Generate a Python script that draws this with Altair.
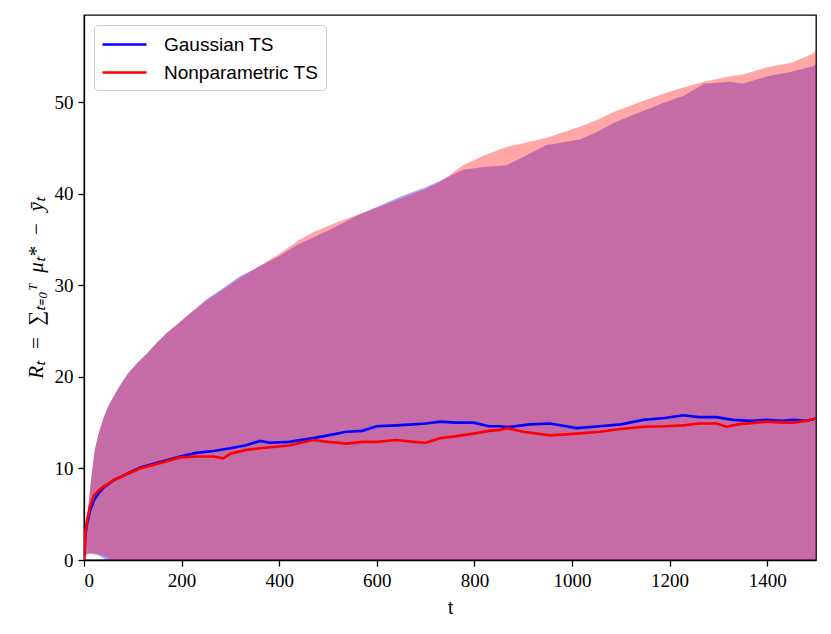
import altair as alt
import pandas as pd

# ---- data ----
SERIES = ["Gaussian TS", "Nonparametric TS"]
COLORS = ["#0000ff", "#ff0000"]

T_G = [0, 3, 6, 12, 20, 30, 40, 60, 80, 115, 150, 197, 230, 265, 300, 330, 361, 381, 420, 470,
       500, 538, 570, 600, 640, 675, 700, 730, 760, 798, 830, 852, 866, 914, 955, 1010, 1057,
       1100, 1146, 1190, 1228, 1260, 1296, 1317, 1330, 1365, 1399, 1430, 1453, 1480, 1500]
M_G = [0, 2.8, 3.9, 5.3, 6.5, 7.3, 7.9, 8.7, 9.2, 10.1, 10.6, 11.3, 11.7, 11.9, 12.2, 12.5, 13.0,
       12.8, 12.9, 13.3, 13.6, 14.0, 14.1, 14.6, 14.7, 14.8, 14.9, 15.1, 15.0, 15.0, 14.6, 14.6,
       14.5, 14.8, 14.9, 14.4, 14.6, 14.8, 15.3, 15.5, 15.8, 15.6, 15.6, 15.4, 15.3, 15.2, 15.3,
       15.2, 15.3, 15.2, 15.45]

T_N = [0, 3, 6, 12, 20, 30, 40, 60, 80, 115, 150, 197, 230, 265, 285, 300, 330, 361, 420, 470,
       500, 538, 570, 600, 640, 675, 700, 730, 760, 798, 830, 852, 866, 900, 955, 1010, 1057,
       1100, 1146, 1190, 1228, 1260, 1296, 1317, 1340, 1399, 1430, 1453, 1480, 1500]
M_N = [0, 3.0, 4.3, 5.8, 7.0, 7.6, 8.0, 8.7, 9.2, 10.0, 10.5, 11.2, 11.3, 11.3, 11.1, 11.6, 12.0,
       12.2, 12.5, 13.1, 12.9, 12.7, 12.9, 12.9, 13.1, 12.9, 12.8, 13.3, 13.5, 13.8, 14.1, 14.2,
       14.4, 14.0, 13.6, 13.8, 14.0, 14.3, 14.55, 14.6, 14.7, 14.9, 14.9, 14.55, 14.8, 15.1, 15.0,
       15.0, 15.2, 15.45]

T_BAND = [0, 2, 5, 10, 16, 22, 30, 40, 50, 60,
          75, 90, 110, 128, 150, 170, 195, 217,
          250, 285, 320, 354, 400, 440, 470, 520, 560, 607,
          650, 700, 730, 777, 820, 866, 900, 948, 1016, 1050,
          1085, 1130, 1187, 1230, 1270, 1324, 1350, 1400, 1450, 1494, 1500]
UP_G = [0, 1.8, 3.5, 6.5, 9.5, 12.0, 13.8, 15.5, 16.8, 17.8,
        19.2, 20.4, 21.6, 22.5, 23.8, 24.8, 25.9, 26.9,
        28.4, 29.7, 31.0, 31.9, 33.2, 34.5, 35.2, 36.5, 37.6, 38.7,
        39.7, 40.7, 41.4, 42.6, 42.9, 43.1, 44.0, 45.3, 45.9, 46.7,
        47.7, 48.7, 49.9, 50.7, 52.0, 52.2, 52.0, 52.8, 53.3, 53.9, 54.2]
UP_N = [0, 1.8, 3.5, 6.5, 9.5, 12.0, 13.8, 15.5, 16.8, 17.8,
        19.1, 20.3, 21.5, 22.5, 23.7, 24.8, 25.9, 26.9,
        28.3, 29.5, 30.8, 31.9, 33.4, 34.9, 35.8, 36.9, 37.7, 38.6,
        39.5, 40.5, 41.3, 43.1, 44.2, 45.1, 45.5, 46.1, 47.3, 48.0,
        48.9, 49.8, 50.9, 51.6, 52.2, 52.8, 53.0, 53.8, 54.3, 55.3, 55.7]
LO_G = [0, 0.45, 0.7, 0.75, 0.7, 0.6, 0.5, 0.2, -0.3, -0.8,
        -1.5, -2, -3, -3, -3, -3, -3, -3,
        -3, -3, -3, -3, -3, -3, -3, -3, -3, -3,
        -3, -3, -3, -3, -3, -3, -3, -3, -3, -3,
        -3, -3, -3, -3, -3, -3, -3, -3, -3, -3, -3]
LO_N = [0, 0.3, 0.5, 0.65, 0.7, 0.7, 0.65, 0.45, 0.2, -0.2,
        -1.0, -1.5, -3, -3, -3, -3, -3, -3,
        -3, -3, -3, -3, -3, -3, -3, -3, -3, -3,
        -3, -3, -3, -3, -3, -3, -3, -3, -3, -3,
        -3, -3, -3, -3, -3, -3, -3, -3, -3, -3, -3]

X_TICKS = [0, 200, 400, 600, 800, 1000, 1200, 1400]
Y_TICKS = [0, 10, 20, 30, 40, 50]
X_TITLE = "t"
Y_TITLE = "Rₜ\u2002=\u2002∑ₜ₌₀ᵀ\u2002μₜ*\u2002−\u2002ȳₜ"

# ---- tables ----
band = pd.DataFrame({"t": T_BAND, "up_g": UP_G, "lo_g": LO_G, "up_n": UP_N, "lo_n": LO_N})
lines = pd.concat([
    pd.DataFrame({"t": T_G, "v": M_G, "series": SERIES[0]}),
    pd.DataFrame({"t": T_N, "v": M_N, "series": SERIES[1]}),
])

xs = alt.Scale(domain=[0, 1500], nice=False, zero=False)
ys = alt.Scale(domain=[0, 59.5], nice=False)

x_axis = alt.Axis(values=X_TICKS, title=X_TITLE, grid=False, format="d")
y_axis = alt.Axis(values=Y_TICKS, title=Y_TITLE, grid=False, format="d")

band_g = alt.Chart(band).mark_area(color=COLORS[0], opacity=0.35, clip=True).encode(
    x=alt.X("t:Q", scale=xs, axis=x_axis),
    y=alt.Y("up_g:Q", scale=ys, axis=y_axis),
    y2="lo_g:Q",
)
band_n = alt.Chart(band).mark_area(color=COLORS[1], opacity=0.35, clip=True).encode(
    x=alt.X("t:Q", scale=xs),
    y=alt.Y("up_n:Q", scale=ys),
    y2="lo_n:Q",
)
line = alt.Chart(lines).mark_line(strokeWidth=2.7, clip=True).encode(
    x=alt.X("t:Q", scale=xs),
    y=alt.Y("v:Q", scale=ys),
    color=alt.Color("series:N", scale=alt.Scale(domain=SERIES, range=COLORS),
                    legend=alt.Legend(title=None, orient="top-left", offset=10)),
    order=alt.Order("t:Q"),
)

chart = (band_g + band_n + line).properties(
    width=732, height=545,
    padding={"left": 76, "top": 7, "right": 7, "bottom": 66},
    autosize=alt.AutoSizeParams(type="none"),
).configure_view(
    stroke="black", strokeWidth=1.3,
).configure_axis(
    domainColor="black", domainWidth=1.3, tickColor="black", tickWidth=1.3, tickSize=6,
    labelFont="Liberation Serif", labelFontSize=19, labelColor="black", labelPadding=5,
    titleFont="Liberation Sans", titleFontSize=18, titleFontWeight="normal", titleColor="black",
).configure_axisX(
    titlePadding=9,
).configure_axisY(
    titleFont="Liberation Serif", titleFontStyle="italic", titleFontSize=21, titlePadding=8,
).configure_legend(
    labelFont="Liberation Sans", labelFontSize=19, labelColor="black",
    symbolType="M-1,0L3,0", symbolSize=484, symbolStrokeWidth=2.7, labelOffset=38,
    padding=7, cornerRadius=4, strokeColor="#cccccc", fillColor="rgba(255,255,255,0.8)",
    rowPadding=5,
)

chart.save("out.html", embed_options={"renderer": "svg", "actions": False})
